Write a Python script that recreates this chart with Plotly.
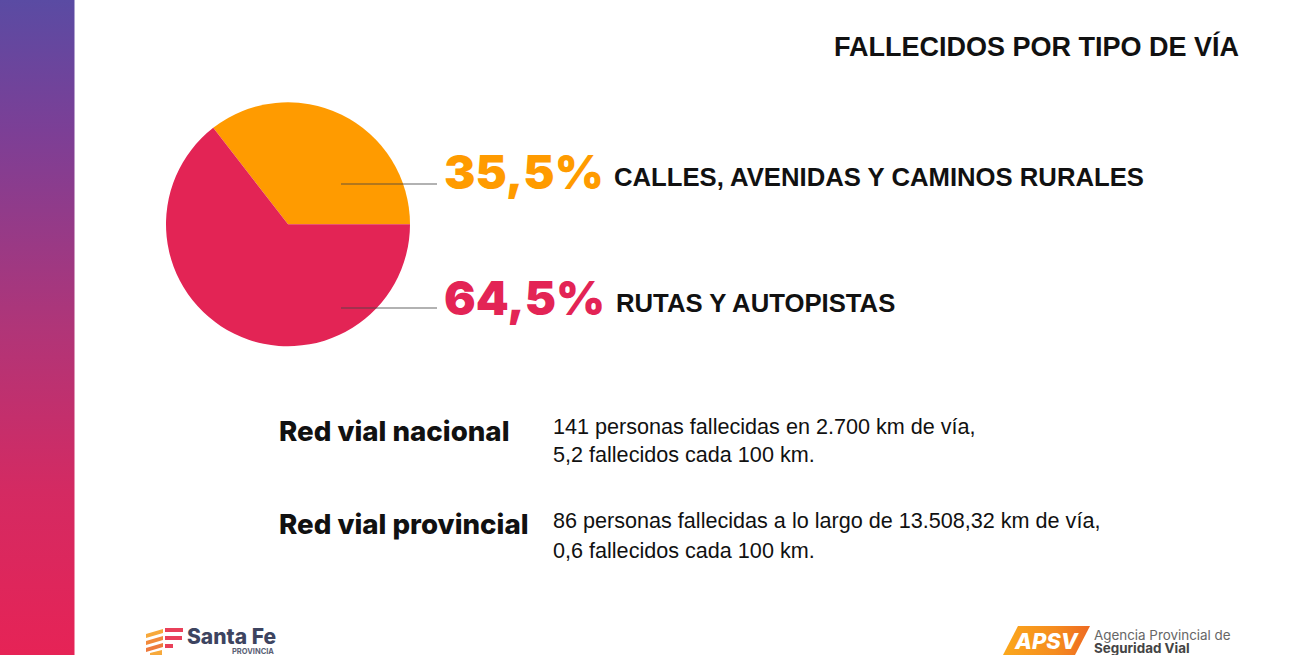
import plotly.graph_objects as go

# chart data
categories = ['Calles, avenidas y caminos rurales', 'Rutas y autopistas']
shares = [35.5, 64.5]
share_labels = ['35,5%', '64,5%']
slice_colors = ['#FF9B00', '#E32455']
cat_labels = ['CALLES, AVENIDAS Y CAMINOS RURALES', 'RUTAS Y AUTOPISTAS']

W = 1300
H = 655

fig = go.Figure()

# pie
fig.add_trace(go.Pie(
    labels=categories,
    values=shares,
    sort=False,
    direction='clockwise',
    rotation=-37.8,
    marker=dict(colors=slice_colors, line=dict(width=0)),
    textinfo='none',
    hoverinfo='skip',
    showlegend=False,
    domain=dict(x=[166 / W, 410 / W], y=[1 - 346.5 / H, 1 - 102 / H]),
))

# side bar with the purple to red gradient
fig.add_trace(go.Scatter(
    x=[0, 74.5, 74.5, 0, 0],
    y=[0, 0, 655, 655, 0],
    mode='none',
    fill='toself',
    fillgradient=dict(
        type='vertical',
        colorscale=[[0, '#E62356'], [0.25, '#D42A62'], [0.5, '#B03578'], [0.8, '#7C3F96'], [1, '#5A4BA3']],
    ),
    hoverinfo='skip',
    showlegend=False,
))

# APSV badge
fig.add_trace(go.Scatter(
    x=[1018, 1090, 1075, 1003, 1018],
    y=[626, 626, 655, 655, 626],
    mode='none',
    fill='toself',
    fillgradient=dict(
        type='horizontal',
        colorscale=[[0, '#FBA81C'], [0.6, '#F58C1F'], [1, '#EE6A22']],
    ),
    hoverinfo='skip',
    showlegend=False,
))

shapes = [
    dict(type='line', x0=341, x1=437, y0=184, y1=184, layer='above',
         line=dict(color='rgba(70,70,70,0.55)', width=1.5)),
    dict(type='line', x0=341, x1=437, y0=308, y1=308, layer='above',
         line=dict(color='rgba(70,70,70,0.55)', width=1.5)),
]

# Santa Fe logo stripes
stripes = [
    ('M 146 634 L 163 629 L 163 633 L 146 638 Z', '#F7A93B'),
    ('M 146 641 L 163 636 L 163 640 L 146 645 Z', '#F28A3A'),
    ('M 146 648 L 163 643 L 163 647 L 146 652 Z', '#EE7A3C'),
    ('M 165 628 L 183 628 L 183 632 L 165 632 Z', '#E9405A'),
    ('M 165 636 L 182 636 L 182 640 L 165 640 Z', '#E9405A'),
    ('M 165 644 L 173 644 L 173 648 L 165 648 Z', '#E9405A'),
    ('M 150 653 L 162 650 L 162 655 L 150 655 Z', '#F7A93B'),
]
for p, c in stripes:
    shapes.append(dict(type='path', path=p, fillcolor=c, line=dict(width=0), layer='above'))


def note(x, y, text, size, color='#111111', family='Liberation Sans', anchor='left', weight='normal', style='normal'):
    return dict(x=x, y=y, xref='x', yref='y', text=text, showarrow=False,
                xanchor=anchor, yanchor='middle', align='left',
                font=dict(size=size, color=color, family=family, weight=weight, style=style))


annotations = [
    note(1241, 46, 'FALLECIDOS POR TIPO DE VÍA', 27, anchor='right', weight=700),
    note(442, 171, share_labels[0], 47, slice_colors[0], 'Inter', weight=900),
    note(442, 297, share_labels[1], 47, slice_colors[1], 'Inter', weight=900),
    note(612, 177, cat_labels[0], 25.7, weight=700),
    note(614, 303, cat_labels[1], 25.7, weight=700),
    note(277, 431, 'Red vial nacional', 27.7, '#111111', 'Inter', weight=800),
    note(277, 524, 'Red vial provincial', 27.7, '#111111', 'Inter', weight=800),
    note(551, 426, '141 personas fallecidas en 2.700 km de vía,', 21.6),
    note(551, 454, '5,2 fallecidos cada 100 km.', 21.6),
    note(551, 520, '86 personas fallecidas a lo largo de 13.508,32 km de vía,', 21.6),
    note(551, 550, '0,6 fallecidos cada 100 km.', 21.6),
    note(185, 636, 'Santa Fe', 21, '#3D4460', 'Inter', weight=800),
    note(230, 651, 'PROVINCIA', 7.5, '#5A5F75', 'Inter', weight=700),
    note(1047, 641, 'APSV', 22, '#FFFFFF', 'Inter', anchor='center', weight=800, style='italic'),
    note(1092, 635, 'Agencia Provincial de', 13.4, '#666666', 'Inter'),
    note(1092, 648, 'Seguridad Vial', 13.4, '#444444', 'Inter', weight=700),
]

fig.update_layout(
    width=W,
    height=H,
    margin=dict(l=0, r=0, t=0, b=0),
    paper_bgcolor='white',
    plot_bgcolor='white',
    xaxis=dict(range=[0, W], visible=False, fixedrange=True),
    yaxis=dict(range=[H, 0], visible=False, fixedrange=True),
    shapes=shapes,
    annotations=annotations,
)

# the page has a default body margin that would shift everything by 8px
fig.write_html("out.html", config={'displayModeBar': False},
               post_script="document.body.style.margin='0';document.documentElement.style.overflow='hidden';")
